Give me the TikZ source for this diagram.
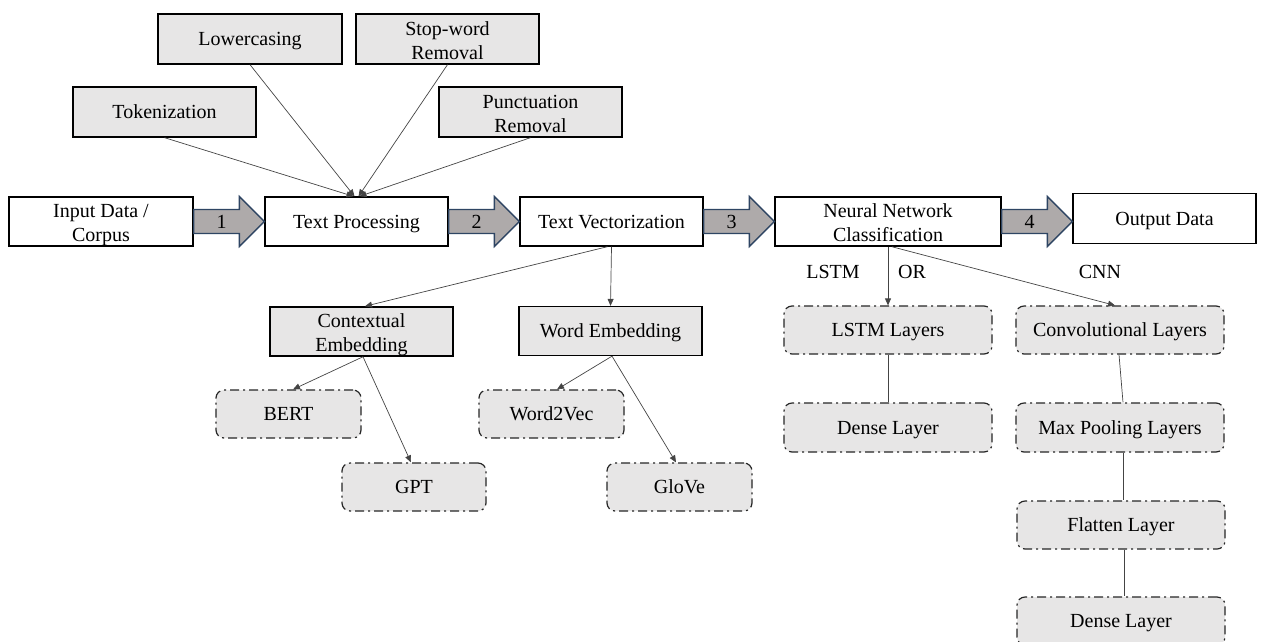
\documentclass[tikz,border=0pt]{standalone}
\usepackage{fontspec}
\setmainfont{Liberation Serif}
\usetikzlibrary{calc,arrows.meta}
\definecolor{boxfill}{HTML}{E7E6E6}
\definecolor{arrfill}{HTML}{AEAAAA}
\definecolor{arrline}{HTML}{2E4563}
\definecolor{conn}{HTML}{444444}
\newcommand{\mltop}{\rule{0pt}{20.7pt}}
\newcommand{\mlbot}{\rule[-4.5pt]{0pt}{4.5pt}}
\newcommand{\blockarr}[3]{%
  \coordinate (tipx) at (#2.west |- #1.east);
  \draw[barrow] ($(#1.east)+(0,-12)$) -- ($(tipx)+(-25,-12)$) -- ($(tipx)+(-25,-25)$) -- (tipx)
    -- ($(tipx)+(-25,25)$) -- ($(tipx)+(-25,12)$) -- ($(#1.east)+(0,12)$) -- cycle;
  \node[sl] at ($(#1.east)!0.5!(tipx)+(-7.5,0)$) {#3};}
\begin{document}
\begin{tikzpicture}[x=1pt,y=-1pt,
  every node/.style={font=\fontsize{20}{24}\selectfont, inner sep=0pt},
  sl/.style={execute at begin node={\rule{0pt}{17.6pt}},
    execute at end node={\rule[-4.5pt]{0pt}{4.5pt}}},
  ml/.style={align=center},
  plainbox/.style={draw=black, line width=1.3pt, fill=white},
  graybox/.style={draw=black, line width=1.3pt, fill=boxfill},
  dashbox/.style={draw=black!85, line width=1.2pt, fill=boxfill, rounded corners=8pt,
    dash pattern=on 9pt off 4pt on 2pt off 4pt},
  barrow/.style={draw=arrline, line width=1.3pt, fill=arrfill, line join=miter},
  conline/.style={draw=conn, line width=0.7pt},
  conarrow/.style={conline, -{Triangle[length=7pt,width=6pt]}}
]
\useasboundingbox (0,0) rectangle (1261,641);
% top preprocessing boxes
\node[graybox, sl, minimum width=184pt, minimum height=50pt] (low) at (250,39) {Lowercasing};
\node[graybox, ml, minimum width=183pt, minimum height=50pt] (stop) at (447.5,39) {\mltop Stop-word\\Removal\mlbot};
\node[graybox, sl, minimum width=183pt, minimum height=50pt] (tok) at (164.5,112) {Tokenization};
\node[graybox, ml, minimum width=183pt, minimum height=50pt] (punc) at (530.5,112) {\mltop Punctuation\\Removal\mlbot};
% main row
\node[plainbox, ml, minimum width=184pt, minimum height=49pt] (in) at (101,221.5) {\mltop Input Data /\\Corpus\mlbot};
\node[plainbox, sl, minimum width=183pt, minimum height=49pt] (tp) at (356.5,221.5) {Text Processing};
\node[plainbox, sl, minimum width=183pt, minimum height=49pt] (tv) at (611.5,221.5) {Text Vectorization};
\node[plainbox, ml, minimum width=226pt, minimum height=49pt] (nn) at (888,221.5) {\mltop Neural Network\\Classification\mlbot};
\node[plainbox, sl, minimum width=183pt, minimum height=50pt] (out) at (1164.5,218.5) {Output Data};
% embeddings
\node[graybox, ml, minimum width=183pt, minimum height=49pt] (ce) at (361.5,331.5) {\mltop Contextual\\Embedding\mlbot};
\node[graybox, sl, minimum width=183pt, minimum height=49pt] (we) at (610.5,331) {Word Embedding};
\node[dashbox, sl, minimum width=145pt, minimum height=48pt] (bert) at (288.5,414) {BERT};
\node[dashbox, sl, minimum width=144pt, minimum height=48pt] (gpt) at (414,487) {GPT};
\node[dashbox, sl, minimum width=145pt, minimum height=48pt] (w2v) at (551.5,414) {Word2Vec};
\node[dashbox, sl, minimum width=145pt, minimum height=48pt] (glove) at (679.5,487) {GloVe};
% network layers
\node[dashbox, sl, minimum width=208pt, minimum height=48pt] (lstm) at (888,330) {LSTM Layers};
\node[dashbox, sl, minimum width=208pt, minimum height=49pt] (dense1) at (888,427.5) {Dense Layer};
\node[dashbox, sl, minimum width=208pt, minimum height=48pt] (conv) at (1120,330) {Convolutional Layers};
\node[dashbox, sl, minimum width=208pt, minimum height=49pt] (pool) at (1120,427.5) {Max Pooling Layers};
\node[dashbox, sl, minimum width=208pt, minimum height=48pt] (flat) at (1121,525) {Flatten Layer};
\node[dashbox, sl, minimum width=208pt, minimum height=48pt] (dense2) at (1121,621) {Dense Layer};
% labels
\node[sl] (lstmlbl) at (833,272) {LSTM};
\node[sl] (orlbl) at (912,272) {OR};
\node[sl] (cnnlbl) at (1100,272) {CNN};
% block arrows
\blockarr{in}{tp}{1}
\blockarr{tp}{tv}{2}
\blockarr{tv}{nn}{3}
\blockarr{nn}{out}{4}
% converging connectors
\draw[conarrow] (tok.south) -- ($(tp.north)+(-3,0)$);
\draw[conarrow] (low.south) -- ($(tp.north)+(-2,0)$);
\draw[conarrow] (stop.south) -- ($(tp.north)+(2,0)$);
\draw[conarrow] (punc.south) -- ($(tp.north)+(3,0)$);
% vectorization
\draw[conarrow] (tv.south) -- (we.north);
\draw[conarrow] ($(tv.south)+(-4,0)$) -- ($(ce.north)+(3.5,0)$);
\draw[conarrow] ($(ce.south)+(1.5,0)$) -- ($(bert.north)+(4.5,0)$);
\draw[conarrow] ($(ce.south)+(1.5,0)$) -- ($(gpt.north)+(-3,0)$);
\draw[conarrow] ($(we.south)+(1.5,0)$) -- ($(w2v.north)+(5.5,0)$);
\draw[conarrow] ($(we.south)+(1.5,0)$) -- ($(glove.north)+(-3.5,0)$);
% classification
\draw[conarrow] (nn.south) -- (lstm.north);
\draw[conarrow] ($(nn.south)+(4,0)$) -- ($(conv.north)+(-5,0)$);
\draw[conline] (lstm.south) -- (dense1.north);
\draw[conline] ($(conv.south)+(-1,0)$) -- ($(pool.north)+(3,0)$);
\draw[conline] ($(pool.south)+(3,0)$) -- ($(flat.north)+(2,0)$);
\draw[conline] ($(flat.south)+(3,0)$) -- ($(dense2.north)+(3,0)$);
\end{tikzpicture}
\end{document}
